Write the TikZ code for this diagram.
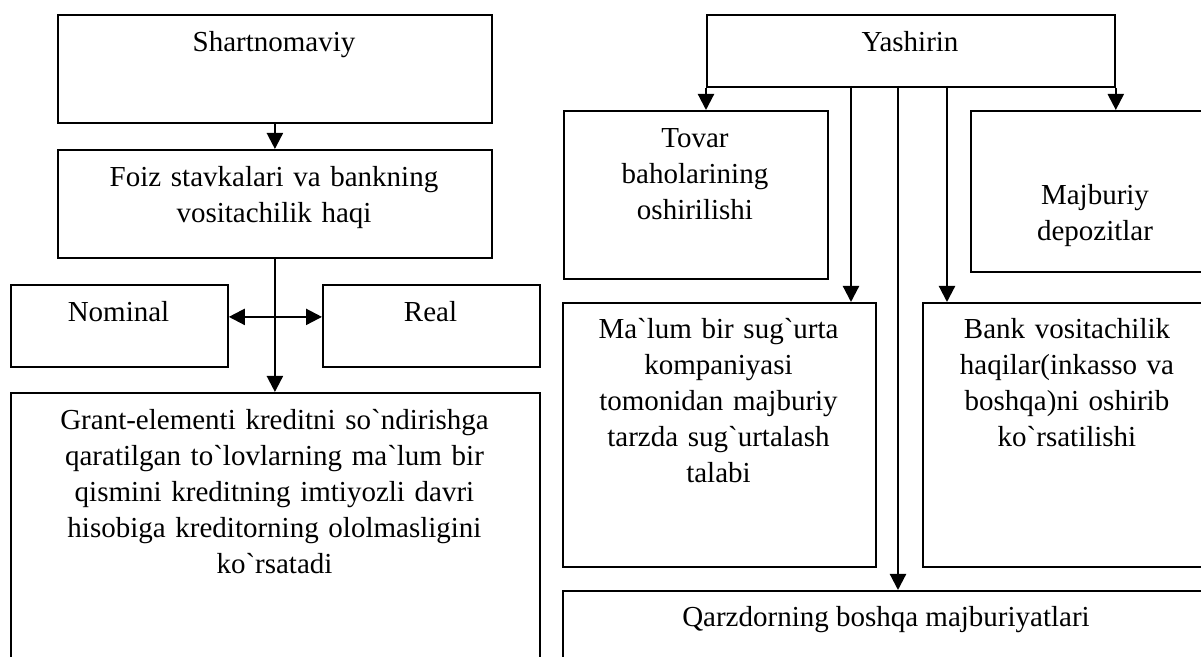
\documentclass[tikz,border=0pt]{standalone}
\usepackage{fontspec}
\setmainfont{Liberation Serif}[Ligatures=TeXOff]
\usetikzlibrary{arrows.meta}
\begin{document}
\begin{tikzpicture}[x=0.5pt,y=-0.5pt,
  box/.style={draw,line width=0.9pt,inner sep=0pt,anchor=north west},
  txt/.style={font=\fontsize{14.5pt}{18pt}\selectfont,inner sep=0pt,anchor=base,align=center},
  arr/.style={line width=1.1pt,-{Triangle[width=8pt,length=8pt]}},
  darr/.style={line width=1.1pt,{Triangle[width=8pt,length=8pt]}-{Triangle[width=8pt,length=8pt]}}]
\useasboundingbox (0,0) rectangle (1201,657);
\clip (0,0) rectangle (1201,657);
% left column boxes
\node[box,minimum width=217pt,minimum height=54pt] (S) at (57,14) {};
\node[box,minimum width=217pt,minimum height=54pt] (F) at (57,149) {};
\node[box,minimum width=108.5pt,minimum height=41pt] (N) at (10,284) {};
\node[box,minimum width=108.5pt,minimum height=41pt] (R) at (322,284) {};
\node[box,minimum width=264.5pt,minimum height=154pt] (G) at (10,392) {};
% right column boxes
\node[box,minimum width=204pt,minimum height=36pt] (Y) at (706,14) {};
\node[box,minimum width=132pt,minimum height=84pt] (T) at (563,110) {};
\node[box,minimum width=125pt,minimum height=80.5pt] (M) at (970,110) {};
\node[box,minimum width=156.5pt,minimum height=132pt] (L) at (562,302) {};
\node[box,minimum width=145pt,minimum height=132pt] (B) at (922,302) {};
\node[box,minimum width=324pt,minimum height=55pt] (Q) at (562,590) {};
% texts
\node[txt] (tS) at (274,52) {Shartnomaviy};
\node[txt,text width=210pt] (tF) at (274,187) {Foiz stavkalari va bankning\\vositachilik haqi};
\node[txt] (tN) at (118.5,322) {Nominal};
\node[txt] (tR) at (430.5,322) {Real};
\node[txt,text width=250pt] (tG) at (274.5,430) {Grant-elementi kreditni so`ndirishga\\qaratilgan to`lovlarning ma`lum bir\\qismini kreditning imtiyozli davri\\hisobiga kreditorning ololmasligini\\ko`rsatadi};
\node[txt] (tY) at (910,52) {Yashirin};
\node[txt,text width=125pt] (tT) at (695,148) {Tovar\\baholarining\\oshirilishi};
\node[txt,text width=120pt] (tM) at (1095,205) {Majburiy\\depozitlar};
\node[txt,text width=150pt] (tL) at (718.5,339) {Ma`lum bir sug`urta\\kompaniyasi\\tomonidan majburiy\\tarzda sug`urtalash\\talabi};
\node[txt,text width=140pt] (tB) at (1067,339) {Bank vositachilik\\haqilar(inkasso va\\boshqa)ni oshirib\\ko`rsatilishi};
\node[txt] (tQ) at (886,627) {Qarzdorning boshqa majburiyatlari};
% connectors left
\draw[arr] (S.south) -- (F.north);
\draw[arr] (F.south) -- (F.south |- G.north);
\draw[darr] ([yshift=4.5pt]N.east) -- ([yshift=4.5pt]R.west);
% connectors right
\coordinate (y1) at (851,86);
\coordinate (y2) at (898,86);
\coordinate (y3) at (947,86);
\draw[arr] (Y.south west) -- (Y.south west |- T.north);
\draw[arr] (Y.south east) -- (Y.south east |- M.north);
\draw[arr] (y1) -- (y1 |- L.north);
\draw[arr] (y2) -- (y2 |- Q.north);
\draw[arr] (y3) -- (y3 |- B.north);
\end{tikzpicture}
\end{document}
